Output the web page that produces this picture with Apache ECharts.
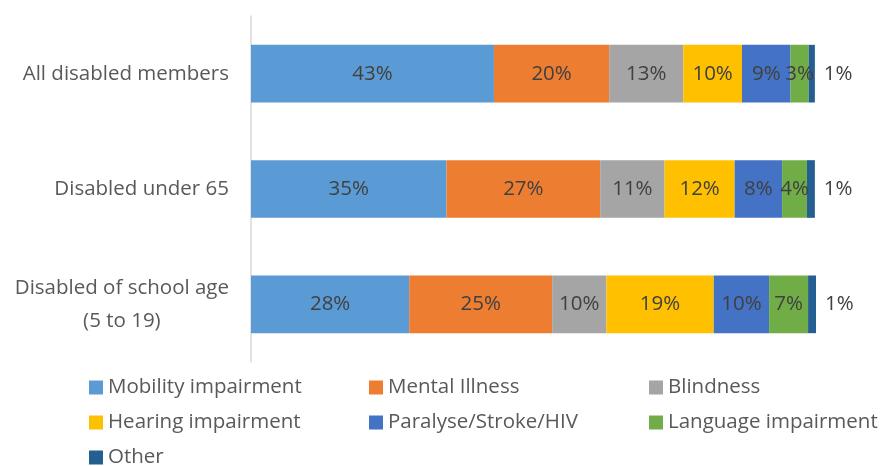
<!DOCTYPE html>
<html>
<head>
<meta charset="utf-8">
<script src="https://cdn.jsdelivr.net/npm/echarts@6/dist/echarts.min.js"></script>
<style>
    html, body { margin: 0; padding: 0; background: #fff; }
    #main { width: 882px; height: 466px; }
</style>
</head>
<body>
<div id="main"></div>
<script>
var categories = ['All disabled members', 'Disabled under 65', 'Disabled of school age\n(5 to 19)'];
var seriesNames = ['Mobility impairment', 'Mental Illness', 'Blindness', 'Hearing impairment',
    'Paralyse/Stroke/HIV', 'Language impairment', 'Other'];
var mobility = [43.0, 34.6, 28.0];
var mental = [20.4, 27.2, 25.3];
var blindness = [13.1, 11.4, 9.6];
var hearing = [10.4, 12.4, 19.0];
var paralyse = [8.6, 8.4, 9.8];
var language = [3.2, 4.4, 6.9];
var other = [1.1, 1.4, 1.4];
var colors = ['#5B9BD5', '#ED7D31', '#A5A5A5', '#FFC000', '#4472C4', '#70AD47', '#255E91'];

var font = 'Open Sans';
var fs = 20.5;
var allData = [mobility, mental, blindness, hearing, paralyse, language, other];

function makeSeries(i) {
    return {
        name: seriesNames[i],
        type: 'bar',
        stack: 'total',
        barWidth: '50%',
        data: allData[i],
        itemStyle: { color: colors[i] },
        label: {
            show: true,
            position: i == 6 ? 'right' : 'inside',
            distance: 9,
            color: '#404040',
            fontFamily: font,
            fontSize: fs,
            formatter: function (p) { return Math.round(p.value) + '%'; }
        }
    };
}

function legendCol(names, left) {
    return {
        data: names,
        orient: 'vertical',
        left: left,
        top: 377,
        height: 120,
        padding: 0,
        itemWidth: 14,
        itemHeight: 14,
        itemGap: 14,
        icon: 'rect',
        textStyle: { color: '#595959', fontFamily: font, fontSize: fs }
    };
}

var myChart = echarts.init(document.getElementById('main'));
var option = {
    animation: false,
    grid: { left: 251, right: 66, top: 16, bottom: 104 },
    legend: [
        legendCol(['Mobility impairment', 'Hearing impairment', 'Other'], 89),
        legendCol(['Mental Illness', 'Paralyse/Stroke/HIV'], 369),
        legendCol(['Blindness', 'Language impairment'], 649)
    ],
    xAxis: { type: 'value', min: 0, max: 100, show: false },
    yAxis: {
        type: 'category',
        inverse: true,
        data: categories,
        axisTick: { show: false },
        axisLine: { lineStyle: { color: '#D9D9D9', width: 1.5 } },
        axisLabel: {
            margin: 22,
            formatter: function (v) {
                return v.split('\n').map(function (s) { return '{c|' + s + '}'; }).join('\n');
            },
            rich: {
                c: { align: 'center', color: '#595959', fontFamily: font, fontSize: fs, lineHeight: 33 }
            }
        }
    },
    series: [0, 1, 2, 3, 4, 5, 6].map(makeSeries)
};
myChart.setOption(option);
</script>
</body>
</html>
